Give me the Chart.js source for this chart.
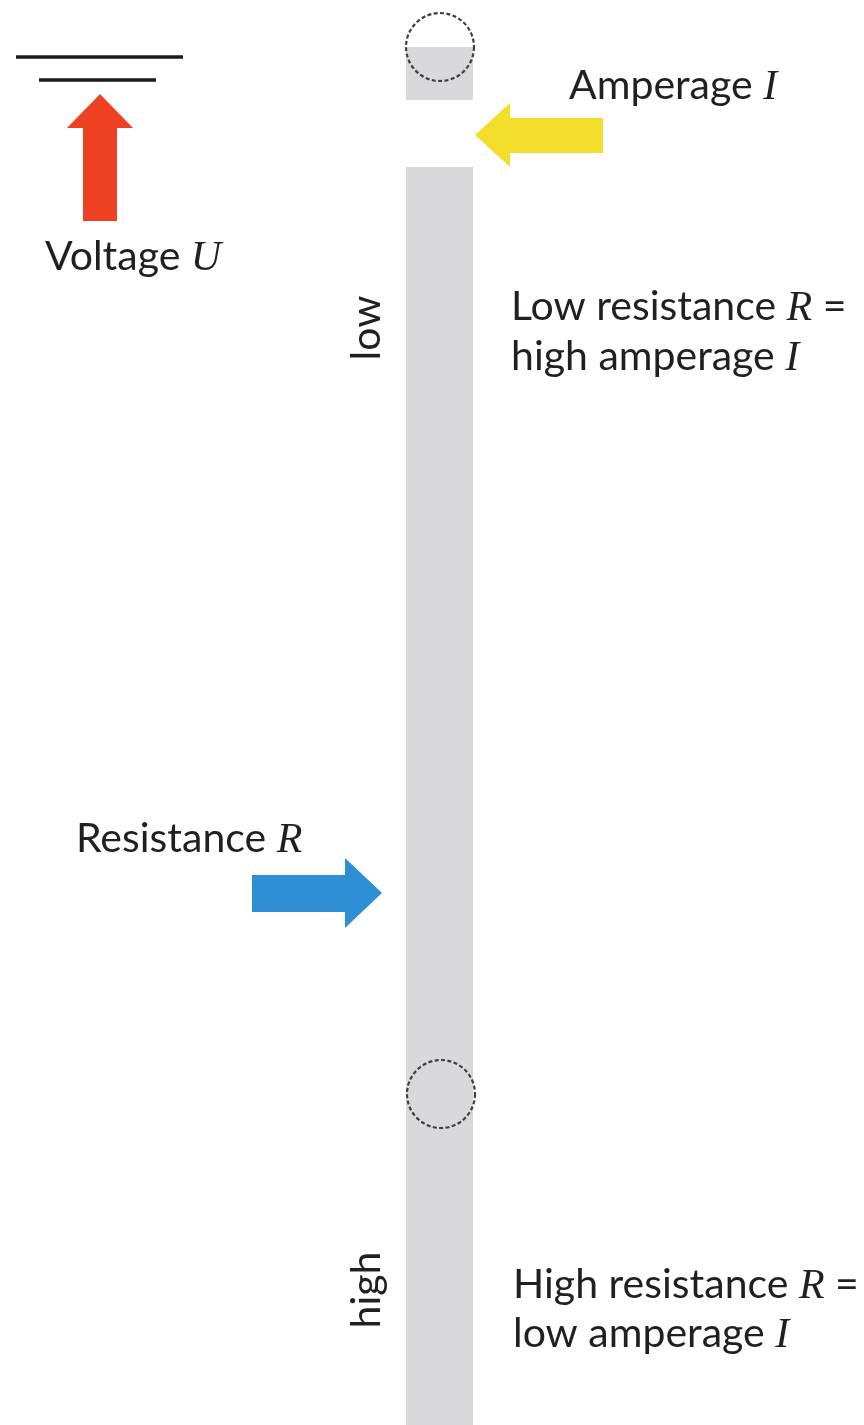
<!DOCTYPE html>
<html>
<head>
<meta charset="utf-8">
<script src="https://cdn.jsdelivr.net/npm/chart.js@4.4.0/dist/chart.umd.min.js"></script>
<style>
html,body{margin:0;padding:0;background:#ffffff;}
#wrap{width:864px;height:1425px;position:relative;}
canvas{display:block;}
</style>
</head>
<body>
<div id="wrap"><canvas id="c" width="864" height="1425"></canvas></div>
<script>
// ---- diagram data (diagram units: x 0..864, y 0..1425 from top) ----
const conductorTop      = [[406,47],[473,47],[473,100],[406,100],[406,47]];
const conductorMain     = [[406,167],[473,167],[473,1425],[406,1425],[406,167]];
const voltageArrow      = [[83,221],[83,128],[67,128],[100,94],[133,128],[117,128],[117,221],[83,221]];
const amperageArrow     = [[603,118],[510,118],[510,103],[475,135],[510,167],[510,153],[603,153],[603,118]];
const resistanceArrow   = [[252,875],[345,875],[345,858],[382,893],[345,928],[345,912],[252,912],[252,875]];
const plateLong         = [[16,57],[183,57]];
const plateShort        = [[39,80],[156,80]];
const chargeMarkers     = [[440,47],[441,1094]];

const voltageLabel      = [["Voltage ",false],["U",true]];
const amperageLabel     = [["Amperage ",false],["I",true]];
const resistanceLabel   = [["Resistance ",false],["R",true]];
const lowLine1          = [["Low resistance ",false],["R",true],[" =",false]];
const lowLine2          = [["high amperage ",false],["I",true]];
const highLine1         = [["High resistance ",false],["R",true],[" =",false]];
const highLine2         = [["low amperage ",false],["I",true]];
const axisLow           = "low";
const axisHigh          = "high";

// ---- layout / style ----
const GRAY = '#d9d9db';
const TEXT = '#231f20';
const SANS = '41px Lato';
const ITAL = 'italic 42px "Liberation Serif"';

const textItems = [
  {parts: voltageLabel,    x: 45,  y: 270},
  {parts: amperageLabel,   x: 569, y: 99},
  {parts: resistanceLabel, x: 76,  y: 852},
  {parts: lowLine1,        x: 511, y: 320},
  {parts: lowLine2,        x: 511, y: 370},
  {parts: highLine1,       x: 513, y: 1298},
  {parts: highLine2,       x: 513, y: 1347},
  {parts: [[axisLow,false]],  x: 367, y: 328,  rotate: true},
  {parts: [[axisHigh,false]], x: 367, y: 1290, rotate: true}
];

function pts(a){ return a.map(p => ({x: p[0], y: p[1]})); }

function dashedCircle(r){
  const c = document.createElement('canvas');
  const s = Math.ceil(2*r + 8);
  c.width = s; c.height = s;
  const g = c.getContext('2d');
  g.strokeStyle = '#3f3f41';
  g.lineWidth = 2.2;
  g.setLineDash([4, 2.4]);
  g.beginPath();
  g.arc(s/2, s/2, r, 0, Math.PI*2);
  g.stroke();
  return c;
}
const circleStyle = dashedCircle(34);

function shape(data, color, order){
  return {type:'line', data: pts(data), showLine:true, fill:'shape', order,
    backgroundColor: color, borderColor: 'rgba(0,0,0,0)', borderWidth: 0.01,
    pointRadius: 0, tension: 0};
}
function stroke(data, color, w, order){
  return {type:'line', data: pts(data), showLine:true, fill:false, order,
    borderColor: color, borderWidth: w, pointRadius: 0, borderCapStyle:'butt'};
}

const textPlugin = {
  id: 'diagramText',
  afterDatasetsDraw(chart){
    const {ctx, scales:{x, y}} = chart;
    for (const item of textItems){
      const px = x.getPixelForValue(item.x);
      const py = y.getPixelForValue(item.y);
      ctx.save();
      ctx.translate(px, py);
      ctx.fillStyle = TEXT;
      ctx.textAlign = 'left';
      if (item.rotate){ ctx.rotate(-Math.PI/2); ctx.textBaseline = 'middle'; }
      else ctx.textBaseline = 'alphabetic';
      const widths = item.parts.map(p => { ctx.font = p[1] ? ITAL : SANS; return ctx.measureText(p[0]).width; });
      const total = widths.reduce((a,b)=>a+b, 0);
      let cx = item.rotate ? -total/2 : 0;
      item.parts.forEach((p,i) => { ctx.font = p[1] ? ITAL : SANS; ctx.fillText(p[0], cx, 0); cx += widths[i]; });
      ctx.restore();
    }
  }
};

new Chart(document.getElementById('c'), {
  type: 'scatter',
  data: {
    datasets: [
      {type:'scatter', data: pts(chargeMarkers), pointStyle: circleStyle, pointRadius: 34, order: 0,
       backgroundColor:'rgba(0,0,0,0)', borderColor:'rgba(0,0,0,0)'},
      shape(conductorTop, GRAY, 5),
      shape(conductorMain, GRAY, 5),
      shape(voltageArrow, '#ee4124', 2),
      shape(amperageArrow, '#f3de2c', 2),
      shape(resistanceArrow, '#2f8fd5', 2),
      stroke(plateLong, '#1a1a1a', 3.5, 2),
      stroke(plateShort, '#1a1a1a', 3.5, 2)
    ]
  },
  options: {
    responsive: false,
    devicePixelRatio: 1,
    animation: false,
    events: [],
    layout: {padding: 0, autoPadding: false},
    plugins: {legend:{display:false}, tooltip:{enabled:false}},
    scales: {
      x: {type:'linear', min:0, max:864, display:false},
      y: {type:'linear', min:0, max:1425, reverse:true, display:false}
    }
  },
  plugins: [textPlugin]
});
</script>
</body>
</html>
